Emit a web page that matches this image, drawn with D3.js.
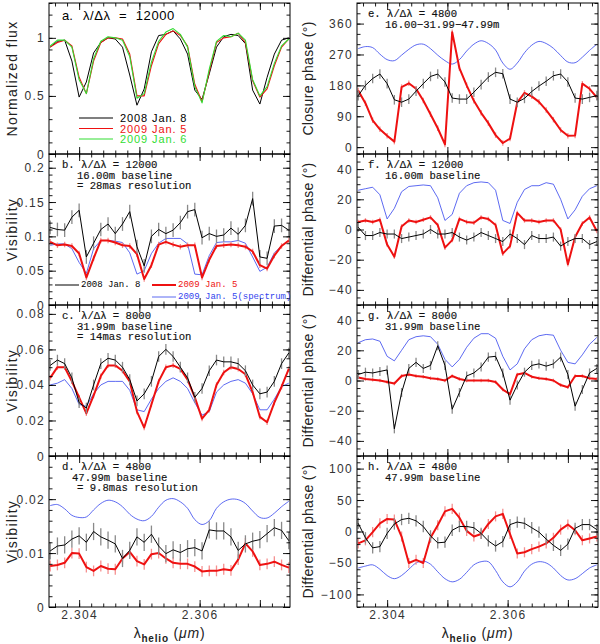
<!DOCTYPE html>
<meta charset="utf-8">
<script src="https://d3js.org/d3.v7.min.js"></script>
<style>
  body { margin: 0; background: #fff; }
  .tick text { font-family: "Liberation Sans", Helvetica, sans-serif; font-size: 12px; fill: #333; letter-spacing: 1.3px; }
  .note { font-family: "Liberation Mono", monospace; font-size: 10.6px; fill: #111; stroke: #111; stroke-width: 0.15px; }
</style>
<div id="chart"></div>
<script>
// wavelength grid (micron), shared by all panels
var lam = [2.30352, 2.30364, 2.30376, 2.30388, 2.30400, 2.30412, 2.30424, 2.30436, 2.30448, 2.30460,
           2.30472, 2.30484, 2.30496, 2.30508, 2.30520, 2.30532, 2.30544, 2.30556, 2.30568, 2.30580,
           2.30592, 2.30604, 2.30616, 2.30628, 2.30640, 2.30652, 2.30664, 2.30676, 2.30688, 2.30700,
           2.30712, 2.30724, 2.30736, 2.30748];

// a. normalized flux
var flux2008 = [0.92,0.97,0.98,0.80,0.49,0.62,0.87,0.96,1.00,0.99,0.92,0.68,0.42,0.56,0.88,1.02,1.03,1.06,0.99,0.86,0.55,0.47,0.69,0.92,1.01,1.03,1.02,0.95,0.55,0.43,0.66,0.86,0.98,1.00];
var flux2009a = [0.92,0.96,0.98,0.93,0.66,0.52,0.80,0.96,1.00,1.00,0.99,0.86,0.50,0.50,0.76,0.95,1.03,1.06,1.02,0.93,0.60,0.45,0.71,0.96,1.00,1.01,1.04,0.96,0.63,0.49,0.56,0.76,0.92,0.99];
var flux2009b = [0.93,0.98,0.98,0.92,0.64,0.52,0.82,0.97,1.01,1.00,0.98,0.84,0.48,0.52,0.79,0.97,1.05,1.08,1.03,0.92,0.58,0.44,0.73,0.97,1.02,1.01,1.04,0.98,0.64,0.50,0.58,0.78,0.93,0.99];

// b. visibility, 16.00m
var visB2008 = [0.113,0.110,0.109,0.128,0.138,0.070,0.090,0.110,0.118,0.104,0.118,0.136,0.085,0.057,0.100,0.110,0.104,0.109,0.120,0.136,0.139,0.098,0.104,0.100,0.102,0.112,0.103,0.116,0.155,0.070,0.068,0.115,0.116,0.109];
var visB2009 = [0.092,0.087,0.088,0.086,0.075,0.040,0.068,0.094,0.094,0.091,0.087,0.086,0.074,0.038,0.058,0.088,0.092,0.088,0.085,0.087,0.087,0.040,0.066,0.086,0.087,0.088,0.087,0.085,0.078,0.058,0.053,0.072,0.086,0.094];
var visBspec = [0.087,0.089,0.089,0.082,0.062,0.046,0.082,0.094,0.094,0.093,0.091,0.076,0.045,0.050,0.075,0.090,0.097,0.097,0.097,0.089,0.045,0.044,0.072,0.091,0.092,0.092,0.094,0.090,0.070,0.049,0.055,0.076,0.086,0.094];

// c. visibility, 31.99m
var visC2008 = [0.051,0.054,0.052,0.044,0.030,0.027,0.040,0.052,0.055,0.054,0.050,0.043,0.031,0.035,0.042,0.056,0.060,0.056,0.050,0.044,0.033,0.038,0.048,0.054,0.053,0.053,0.052,0.048,0.040,0.035,0.036,0.042,0.052,0.058];
var visC2009 = [0.044,0.050,0.050,0.042,0.033,0.024,0.034,0.045,0.051,0.051,0.048,0.042,0.025,0.016,0.029,0.042,0.050,0.051,0.049,0.043,0.033,0.021,0.026,0.040,0.047,0.050,0.049,0.046,0.036,0.022,0.019,0.030,0.039,0.049];
var visCspec = [0.040,0.041,0.043,0.038,0.029,0.028,0.035,0.040,0.042,0.042,0.042,0.037,0.026,0.025,0.032,0.038,0.042,0.044,0.042,0.038,0.030,0.023,0.025,0.036,0.040,0.042,0.043,0.041,0.035,0.026,0.026,0.032,0.039,0.041];

// d. visibility, 47.99m
var visD2008 = [0.0104,0.0113,0.0115,0.0126,0.0132,0.0120,0.0140,0.0130,0.0124,0.0117,0.0090,0.0105,0.0130,0.0120,0.0135,0.0113,0.0099,0.0106,0.0101,0.0108,0.0110,0.0104,0.0143,0.0141,0.0141,0.0130,0.0105,0.0117,0.0122,0.0125,0.0136,0.0147,0.0142,0.0123];
var visD2009 = [0.0076,0.0078,0.0082,0.0100,0.0099,0.0074,0.0067,0.0076,0.0071,0.0070,0.0090,0.0102,0.0085,0.0079,0.0098,0.0100,0.0090,0.0082,0.0080,0.0080,0.0075,0.0066,0.0067,0.0067,0.0070,0.0068,0.0088,0.0118,0.0103,0.0078,0.0080,0.0084,0.0078,0.0073];
var visDspec = [0.0188,0.0190,0.0182,0.0170,0.0166,0.0167,0.0180,0.0192,0.0198,0.0195,0.0186,0.0172,0.0163,0.0160,0.0168,0.0185,0.0198,0.0201,0.0195,0.0183,0.0162,0.0153,0.0160,0.0183,0.0195,0.0200,0.0199,0.0192,0.0178,0.0166,0.0165,0.0174,0.0186,0.0196];

// e. closure phase (deg)
var cpE2008 = [150,180,200,213,185,138,131,140,163,185,206,213,190,143,140,140,160,182,204,218,214,140,131,142,162,178,192,208,213,190,143,140,145,150];
var cpE2009 = [165,128,78,52,33,16,175,186,170,136,96,55,8,335,230,180,135,100,70,35,12,25,130,158,148,132,108,80,50,33,34,185,170,145];
var cpEspec = [287,293,290,271,255,252,268,285,298,300,287,268,252,242,255,280,300,310,302,283,245,227,245,275,297,308,302,288,267,248,246,262,282,300];

// f. differential phase, 16.00m
var dpF2008 = [1.5,-4,-4,-2,-3,-3,-6,-5,-4,-3,0,-3,-3,-2,-5,-7,-5,-2,-4,-6,-8,-3,-6,-10,-4,-6,-6,-5,-11,-8,-6,-6,-10,-8];
var dpF2009 = [5,6,5,6.5,-10,-18,2,6,5,6.5,8,3,-12,-7,7,5,4.5,8,7,3,-16,-11,11,6,6,5,6,6,0,-23,-5,4,8,-1];
var dpFspec = [26,27,28,23,7,14,25,28.5,29,29.5,29,21,6,10,24,29,31,31.5,31,26,6,4,18,26.5,29,29,31,30,20,7,13,22,27,29];

// g. differential phase, 31.99m
var dpG2008 = [4,5.5,5,6,7,-32,-8,8,12,8,10,23,10,-19,-8,3,5,9,15.5,16,5,-13,-3,5.5,10,11,9.5,11,15.5,4,-17,-6,5,8];
var dpG2009 = [2,1,0.5,0,-1,-2,3,4,3,2.5,1.5,1,0,3,1,0,0,0,0,-1,-6,-9,4,5,2.5,1.5,1,0,-3,-4.5,3,3,1.5,1];
var dpGspec = [25,27,27.5,26,16,13,20,27,29,29.6,29,24,14,9,14,22,28,31,31,28,16,7,11,21,27,29.6,30.5,30,20,12,11,17,24,28.5];

// h. differential phase, 47.99m
var dpH2008 = [13,-10,-26,-24,-3,12,19,21,17,8,-7,-18,-17,2,8,8,6,-3,-15,-23,-16,11,15,13,6,-1,-12,-22,-30,-20,5,11,11,3];
var dpH2009 = [-19,-14,-1,13,20,19,-8,-50,-45,-50,-10,10,32,36,22,1,-8,-4,12,24,28,-4,-35,-33,-28,-24,-19,-10,3,11,2,-14,-11,-8];
var dpHspec = [-58,-55,-53,-60,-70,-75,-70,-60,-50,-47,-52,-64,-75,-80,-76,-65,-53,-48,-48,-62,-80,-88,-80,-63,-52,-48,-50,-58,-70,-77,-75,-67,-58,-53];

// tick values
var xMajor = [2.304, 2.305, 2.306, 2.307];
var xLabels = [2.304, 2.306];

var W = 600, H = 644;
var colBlack = "#000", colRed = "#ee1111", colGreen = "#33dd33", colBlue = "#3344ee";

var svg = d3.select("#chart").append("svg").attr("width", W).attr("height", H);

// notes: [text, x offset]
var panels = [
  {col: 0, row: 0, dom: [0, 1.3], major: [0, 0.5, 1], minorStep: 0.1, title: "Normalized flux",
   series: [{v: flux2008, c: colBlack, w: 1}, {v: flux2009a, c: colRed, w: 1.1}, {v: flux2009b, c: colGreen, w: 1.1}]},
  {col: 0, row: 1, dom: [0, 0.22], major: [0, 0.05, 0.1, 0.15, 0.2], minorStep: 0.01, title: "Visibility",
   notes: [["b. \u03bb/\u0394\u03bb = 12000", 13], ["16.00m baseline", 28], ["= 28mas resolution", 28]],
   series: [{v: visBspec, c: colBlue, w: 0.8}, {v: visB2009, c: colRed, w: 2, e: 0.004}, {v: visB2008, c: colBlack, w: 1, e: 0.01}]},
  {col: 0, row: 2, dom: [0, 0.085], major: [0, 0.02, 0.04, 0.06, 0.08], minorStep: 0.005, title: "Visibility",
   notes: [["c. \u03bb/\u0394\u03bb = 8000", 13], ["31.99m baseline", 28], ["= 14mas resolution", 28]],
   series: [{v: visCspec, c: colBlue, w: 0.8}, {v: visC2009, c: colRed, w: 2, e: 0.0015}, {v: visC2008, c: colBlack, w: 1, e: 0.003}]},
  {col: 0, row: 3, dom: [0, 0.028], major: [0, 0.01, 0.02], minorStep: 0.002, title: "Visibility",
   notes: [["d. \u03bb/\u0394\u03bb = 4800", 13], ["47.99m baseline", 23], ["= 9.8mas resolution", 28]],
   series: [{v: visDspec, c: colBlue, w: 0.8, smooth: true}, {v: visD2009, c: colRed, w: 2, e: 0.001}, {v: visD2008, c: colBlack, w: 1, e: 0.0016}]},
  {col: 1, row: 0, dom: [-20, 420], major: [0, 90, 180, 270, 360], minorStep: 30, title: "Closure phase (\u00b0)",
   notes: [["e. \u03bb/\u0394\u03bb = 4800", 11], ["16.00\u221231.99\u221247.99m", 28]],
   series: [{v: cpEspec, c: colBlue, w: 0.8, smooth: true}, {v: cpE2009, c: colRed, w: 2, e: 8}, {v: cpE2008, c: colBlack, w: 1, e: 14}]},
  {col: 1, row: 1, dom: [-50, 50], major: [-40, -20, 0, 20, 40], minorStep: 5, title: "Differential phase (\u00b0)",
   notes: [["f. \u03bb/\u0394\u03bb = 12000", 11], ["16.00m baseline", 28]],
   series: [{v: dpFspec, c: colBlue, w: 0.8}, {v: dpF2009, c: colRed, w: 2, e: 1.5}, {v: dpF2008, c: colBlack, w: 1, e: 3}]},
  {col: 1, row: 2, dom: [-50, 50], major: [-40, -20, 0, 20, 40], minorStep: 5, title: "Differential phase (\u00b0)",
   notes: [["g. \u03bb/\u0394\u03bb = 8000", 11], ["31.99m baseline", 28]],
   series: [{v: dpGspec, c: colBlue, w: 0.8}, {v: dpG2009, c: colRed, w: 2, e: 1.2}, {v: dpG2008, c: colBlack, w: 1, e: 3}]},
  {col: 1, row: 3, dom: [-120, 120], major: [-100, -50, 0, 50, 100], minorStep: 10, title: "Differential phase (\u00b0)",
   notes: [["h. \u03bb/\u0394\u03bb = 4800", 11], ["47.99m baseline", 28]],
   series: [{v: dpHspec, c: colBlue, w: 0.8, smooth: true}, {v: dpH2009, c: colRed, w: 2, e: 8}, {v: dpH2008, c: colBlack, w: 1, e: 9}]}
];

var colX = [49, 357], pw = 241, ph = 151, top0 = 3;

function minorTicks(dom, step) {
  var out = [];
  for (var t = Math.ceil(dom[0] / step) * step; t <= dom[1] + 1e-9; t += step) out.push(+t.toFixed(6));
  return out;
}
var fmt = d3.format("");

panels.forEach(function(p) {
  var x0 = colX[p.col], y0 = top0 + p.row * ph;
  var g = svg.append("g").attr("transform", "translate(" + x0 + "," + y0 + ")");
  var x = d3.scaleLinear().domain([2.3035, 2.3075]).range([0, pw]);
  var y = d3.scaleLinear().domain(p.dom).range([ph, 0]);

  g.append("clipPath").attr("id", "clip" + p.col + p.row)
    .append("rect").attr("width", pw).attr("height", ph);
  var plot = g.append("g").attr("clip-path", "url(#clip" + p.col + p.row + ")");

  p.series.forEach(function(s) {
    var pts = lam.map(function(l, i) { return [l, s.v[i]]; });
    if (s.e) {
      plot.append("g").selectAll("line").data(pts).enter().append("line")
        .attr("x1", function(d) { return x(d[0]); })
        .attr("x2", function(d) { return x(d[0]); })
        .attr("y1", function(d) { return y(d[1] - s.e); })
        .attr("y2", function(d) { return y(d[1] + s.e); })
        .attr("stroke", s.c === colRed ? "#f59090" : "#8a8a8a")
        .attr("stroke-width", 1.3);
    }
    var line = d3.line().x(function(d) { return x(d[0]); }).y(function(d) { return y(d[1]); });
    if (s.smooth) line.curve(d3.curveCatmullRom);
    plot.append("path").datum(pts).attr("d", line)
      .attr("fill", "none").attr("stroke", s.c).attr("stroke-width", s.w)
      .attr("stroke-linejoin", "round");
  });

  // axes with inward ticks
  var minorX = minorTicks([2.3035, 2.3075], 0.0002);
  var minorY = minorTicks(p.dom, p.minorStep);
  var bottom = p.row === 3;

  g.append("g").attr("transform", "translate(0," + ph + ")")
    .call(d3.axisBottom(x).tickValues(minorX).tickSize(-3.5).tickFormat(""));
  g.append("g").attr("transform", "translate(0," + ph + ")")
    .call(d3.axisBottom(x).tickValues(xMajor).tickSize(-7).tickPadding(8)
      .tickFormat(function(d) { return bottom && xLabels.indexOf(d) >= 0 ? d3.format(".3f")(d) : ""; }));
  g.append("g").call(d3.axisTop(x).tickValues(minorX).tickSize(-3.5).tickFormat(""));
  g.append("g").call(d3.axisTop(x).tickValues(xMajor).tickSize(-7).tickFormat(""));

  g.append("g").call(d3.axisLeft(y).tickValues(minorY).tickSize(-3.5).tickFormat(""));
  g.append("g").call(d3.axisLeft(y).tickValues(p.major).tickSize(-7).tickPadding(4).tickFormat(fmt));
  g.append("g").attr("transform", "translate(" + pw + ",0)")
    .call(d3.axisRight(y).tickValues(minorY).tickSize(-3.5).tickFormat(""));
  g.append("g").attr("transform", "translate(" + pw + ",0)")
    .call(d3.axisRight(y).tickValues(p.major).tickSize(-7).tickFormat(""));

  g.selectAll(".domain").remove();
  g.selectAll(".tick line").attr("stroke", "#000").attr("stroke-width", 0.9);
  g.selectAll(".tick text").attr("dy", null).attr("dominant-baseline", "central");
  g.append("rect").attr("width", pw).attr("height", ph)
    .attr("fill", "none").attr("stroke", "#000").attr("stroke-width", 1);

  // y title
  g.append("text")
    .attr("transform", "translate(" + (p.col === 0 ? -37 : -49) + "," + (ph / 2) + ") rotate(-90)")
    .attr("text-anchor", "middle").attr("dominant-baseline", "central")
    .style("font-family", "Liberation Sans, sans-serif").style("font-size", "14px")
    .style("letter-spacing", p.col === 0 ? "1.3px" : "0.3px").style("fill", "#222")
    .text(p.title);

  if (p.notes) {
    p.notes.forEach(function(t, i) {
      g.append("text").attr("class", "note").attr("x", t[1]).attr("y", 14 + i * 10.5).text(t[0]);
    });
  }

  if (bottom) {
    var xt = g.append("text").attr("x", pw / 2).attr("y", ph + 31).attr("text-anchor", "middle")
      .style("font-family", "Liberation Sans, sans-serif").style("font-size", "14px")
      .style("letter-spacing", "0.8px").style("fill", "#222");
    xt.append("tspan").text("\u03bb");
    xt.append("tspan").attr("dy", 4).style("font-size", "10px").style("font-weight", "bold").text("helio");
    xt.append("tspan").attr("dy", -4).text(" (");
    xt.append("tspan").style("font-style", "italic").text("\u03bcm");
    xt.append("tspan").text(")");
  }

  // panel a label and legend
  if (p.col === 0 && p.row === 0) {
    g.append("text").attr("x", 13).attr("y", 17)
      .style("font-family", "Liberation Sans, sans-serif").style("font-size", "13px").text("a.");
    g.append("text").attr("x", 34).attr("y", 17).attr("xml:space", "preserve").style("white-space", "pre")
      .style("font-family", "Liberation Sans, sans-serif").style("font-size", "13px")
      .style("letter-spacing", "0.6px").text("\u03bb/\u0394\u03bb  =  12000");
    var legA = [["2008 Jan. 8", colBlack], ["2009 Jan. 5", colRed], ["2009 Jan. 6", colGreen]];
    legA.forEach(function(d, i) {
      var yy = 115 + i * 10.5;
      g.append("line").attr("x1", 30).attr("x2", 64).attr("y1", yy).attr("y2", yy)
        .attr("stroke", d[1]).attr("stroke-width", 1.1);
      g.append("text").attr("x", 71).attr("y", yy).attr("dominant-baseline", "central")
        .style("font-family", "Liberation Sans, sans-serif").style("font-size", "11px")
        .style("letter-spacing", "0.9px").style("fill", d[1]).text(d[0]);
    });
  }
  // panel b legend
  if (p.col === 0 && p.row === 1) {
    var legB = [["2008 Jan. 8", colBlack, 6, 131, 1], ["2009 Jan. 5", colRed, 103, 131, 2], ["2009 Jan. 5(spectrum)", colBlue, 103, 143, 0.8]];
    legB.forEach(function(d) {
      g.append("line").attr("x1", d[2]).attr("x2", d[2] + 24).attr("y1", d[3]).attr("y2", d[3])
        .attr("stroke", d[1]).attr("stroke-width", d[4]);
      g.append("text").attr("x", d[2] + 26).attr("y", d[3]).attr("dominant-baseline", "central")
        .style("font-family", "Liberation Mono, monospace").style("font-size", "9px")
        .style("fill", d[1]).text(d[0]);
    });
  }
});
</script>
